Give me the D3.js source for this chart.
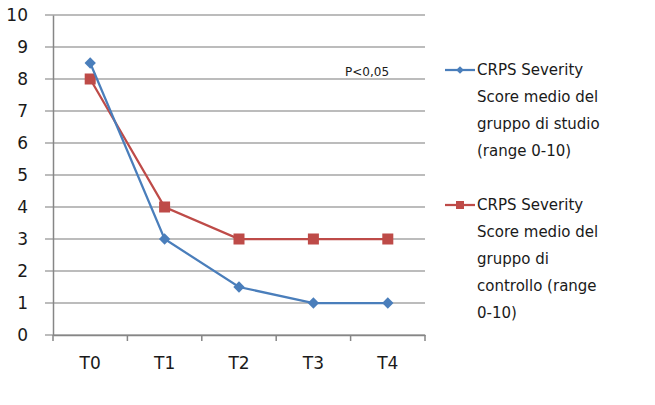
<!DOCTYPE html>
<html>
<head>
<meta charset="utf-8">
<script src="https://cdn.jsdelivr.net/npm/d3@7"></script>
<style>
  body { margin: 0; background: #ffffff; }
  svg { display: block; font-family: "DejaVu Sans", Verdana, sans-serif; }
</style>
</head>
<body>
<svg></svg>
<script>
// Chart data
let categories = ['T0', 'T1', 'T2', 'T3', 'T4'];
let studio = [8.5, 3, 1.5, 1, 1];
let controllo = [8, 4, 3, 3, 3];
let yTicks = [0, 1, 2, 3, 4, 5, 6, 7, 8, 9, 10];
let legendStudio = ['CRPS Severity', 'Score medio del', 'gruppo di studio', '(range 0-10)'];
let legendControllo = ['CRPS Severity', 'Score medio del', 'gruppo di', 'controllo (range', '0-10)'];

// Plot area
let width = 655, height = 405;
let plotLeft = 53, plotRight = 425, plotTop = 15, plotBottom = 335;

let svg = d3.select('svg').attr('width', width).attr('height', height);

let xScale = d3.scaleBand().domain(categories).range([plotLeft, plotRight]);
let yScale = d3.scaleLinear().domain([0, 10]).range([plotBottom, plotTop]);

// Gridlines
svg.append('g')
    .selectAll('line')
    .data(yTicks)
    .enter()
    .append('line')
    .attr('x1', plotLeft - 8)
    .attr('x2', plotRight)
    .attr('y1', (d) => yScale(d))
    .attr('y2', (d) => yScale(d))
    .attr('stroke', '#a6a6a6')
    .attr('stroke-width', 1.5);

// Y axis
let yAxis = d3.axisLeft(yScale).tickValues(yTicks).tickSize(0).tickPadding(25);
let yG = svg.append('g')
    .attr('transform', `translate(${plotLeft}, 0)`)
    .call(yAxis)
    .attr('font-size', 17)
    .attr('font-family', null);
yG.select('.domain').attr('stroke', '#868686').attr('stroke-width', 1.5);
yG.selectAll('text').style('font-size', '17px').attr('fill', '#1a1a1a');

// X axis
let xAxis = d3.axisBottom(xScale).tickSize(0).tickPadding(22);
let xG = svg.append('g')
    .attr('transform', `translate(0, ${plotBottom})`)
    .call(xAxis)
    .attr('font-size', 17)
    .attr('font-family', null);
xG.select('.domain').attr('stroke', '#868686').attr('stroke-width', 1.5);
xG.selectAll('text').style('font-size', '17px').attr('fill', '#1a1a1a');
// Tick marks between categories
let tickPos = categories.map((c) => xScale(c)).concat([xScale(categories[categories.length - 1]) + xScale.bandwidth()]);
xG.selectAll('.cat-tick')
    .data(tickPos)
    .enter()
    .append('line')
    .attr('class', 'cat-tick')
    .attr('x1', (d) => d)
    .attr('x2', (d) => d)
    .attr('y1', 0)
    .attr('y2', 6)
    .attr('stroke', '#868686')
    .attr('stroke-width', 1.5);

let cx = (i) => xScale(categories[i]) + xScale.bandwidth() / 2;

let line = d3.line().x((d, i) => cx(i)).y((d) => yScale(d));

// Control series (red squares)
svg.append('path')
    .datum(controllo)
    .attr('d', line)
    .attr('fill', 'none')
    .attr('stroke', '#be4b48')
    .attr('stroke-width', 2.25);
svg.append('g')
    .selectAll('rect')
    .data(controllo)
    .enter()
    .append('rect')
    .attr('x', (d, i) => cx(i) - 5.5)
    .attr('y', (d) => yScale(d) - 5.5)
    .attr('width', 11)
    .attr('height', 11)
    .attr('fill', '#be4b48');

// Study series (blue diamonds = rotated squares)
svg.append('path')
    .datum(studio)
    .attr('d', line)
    .attr('fill', 'none')
    .attr('stroke', '#4a7ebb')
    .attr('stroke-width', 2.25);
svg.append('g')
    .selectAll('path')
    .data(studio)
    .enter()
    .append('path')
    .attr('d', d3.symbol().type(d3.symbolSquare).size(64))
    .attr('transform', (d, i) => `translate(${cx(i)}, ${yScale(d)}) rotate(45)`)
    .attr('fill', '#4a7ebb');

// Significance label
svg.append('text')
    .attr('x', 345)
    .attr('y', 76)
    .attr('font-size', 12)
    .attr('fill', '#1a1a1a')
    .text('P<0,05');

// Legend
function drawLegend(lines, y0, color, marker) {
    let g = svg.append('g');
    g.append('line')
        .attr('x1', 445).attr('x2', 475)
        .attr('y1', y0).attr('y2', y0)
        .attr('stroke', color).attr('stroke-width', 2.25);
    if (marker === 'square') {
        g.append('rect')
            .attr('x', 456).attr('y', y0 - 4)
            .attr('width', 8).attr('height', 8)
            .attr('fill', color);
    } else {
        g.append('path')
            .attr('d', d3.symbol().type(d3.symbolSquare).size(30))
            .attr('transform', `translate(460, ${y0}) rotate(45)`)
            .attr('fill', color);
    }
    g.selectAll('text')
        .data(lines)
        .enter()
        .append('text')
        .attr('x', 477)
        .attr('y', (d, i) => y0 + 5 + i * 27)
        .attr('font-size', 15)
        .attr('fill', '#1a1a1a')
        .text((d) => d);
}
drawLegend(legendStudio, 70, '#4a7ebb', 'diamond');
drawLegend(legendControllo, 205, '#be4b48', 'square');
</script>
</body>
</html>
